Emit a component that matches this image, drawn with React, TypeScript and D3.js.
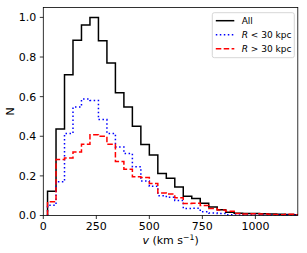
import React from "react";
import * as d3 from "d3";

// histogram bin edges: 20, 60, ..., 1220 (40 km/s bins)
const binStart = 20;
const binWidth = 40;

const allCounts = [
  0.123, 0.437, 0.711, 0.885, 0.962, 1.0, 0.882, 0.77, 0.62, 0.548,
  0.451, 0.358, 0.305, 0.212, 0.188, 0.144, 0.097, 0.086, 0.062, 0.043,
  0.029, 0.016, 0.011, 0.01, 0.01, 0.009, 0.008, 0.006, 0.005, 0.004,
];
const innerCounts = [
  0.052, 0.17, 0.414, 0.548, 0.588, 0.581, 0.484, 0.414, 0.346, 0.313,
  0.246, 0.174, 0.148, 0.1, 0.092, 0.076, 0.035, 0.036, 0.019, 0.012,
  0.01, 0.004, 0.003, 0.002, 0.002, 0.002, 0.001, 0.001, 0.001, 0.001,
];
const outerCounts = [
  0.069, 0.283, 0.29, 0.32, 0.36, 0.408, 0.4, 0.36, 0.272, 0.233,
  0.195, 0.192, 0.162, 0.113, 0.108, 0.09, 0.061, 0.062, 0.051, 0.035,
  0.028, 0.022, 0.01, 0.008, 0.009, 0.008, 0.005, 0.004, 0.006, 0.004,
];

const xTicks = [0, 250, 500, 750, 1000];
const yTicks = [0, 0.2, 0.4, 0.6, 0.8, 1.0];

const series = [
  { label: "All", counts: allCounts, color: "#000000", dash: "" },
  { label: "R < 30 kpc", counts: innerCounts, color: "#0000ff", dash: "1.5,2.5" },
  { label: "R > 30 kpc", counts: outerCounts, color: "#ff0000", dash: "5.5,2.4" },
];

const W = 307;
const H = 253;
const left = 43.3;
const right = 297.8;
const top = 7.5;
const bottom = 215.5;
const font = "DejaVu Sans";

export default function App() {
  const x = d3.scaleLinear().domain([0, 1200]).range([left, right]);
  const y = d3.scaleLinear().domain([0, 1.05]).range([bottom, top]);

  const stepPath = (counts: number[]) => {
    const pts: [number, number][] = [[binStart, 0]];
    counts.forEach((c, i) => {
      pts.push([binStart + i * binWidth, c]);
      pts.push([binStart + (i + 1) * binWidth, c]);
    });
    pts.push([binStart + counts.length * binWidth, 0]);
    return d3
      .line<[number, number]>()
      .x((d) => x(d[0]))
      .y((d) => y(d[1]))(pts)!;
  };

  const legX = 212.3;
  const legY = 12.7;
  const rowH = 14;

  return (
    <svg
      width={W}
      height={H}
      style={{ position: "absolute", left: 0, top: 0, background: "#fff" }}
      fontFamily={font}
    >
      <defs>
        <clipPath id="plotArea">
          <rect x={left} y={top} width={right - left} height={bottom - top} />
        </clipPath>
      </defs>

      <g clipPath="url(#plotArea)">
        {series.map((s) => (
          <path
            key={s.label}
            d={stepPath(s.counts)}
            fill="none"
            stroke={s.color}
            strokeWidth={1.5}
            strokeDasharray={s.dash || undefined}
            strokeLinejoin="miter"
          />
        ))}
      </g>

      {/* spines */}
      <rect
        x={left}
        y={top}
        width={right - left}
        height={bottom - top}
        fill="none"
        stroke="#000"
        strokeWidth={0.8}
      />

      {/* x axis */}
      {xTicks.map((t) => (
        <g key={t} transform={`translate(${x(t)},${bottom})`}>
          <line y2={3.5} stroke="#000" strokeWidth={0.8} />
          <text y={14.5} textAnchor="middle" fontSize={11}>
            {t}
          </text>
        </g>
      ))}
      <text x={(left + right) / 2} y={243.5} textAnchor="middle" fontSize={11}>
        <tspan fontStyle="italic">v</tspan>
        <tspan> (km s</tspan>
        <tspan fontSize={7.7} dy={-4}>−1</tspan>
        <tspan dy={4}>)</tspan>
      </text>

      {/* y axis */}
      {yTicks.map((t) => (
        <g key={t} transform={`translate(${left},${y(t)})`}>
          <line x2={-3.5} stroke="#000" strokeWidth={0.8} />
          <text x={-7} dy="0.36em" textAnchor="end" fontSize={11}>
            {t.toFixed(1)}
          </text>
        </g>
      ))}
      <text
        transform={`translate(14,${(top + bottom) / 2}) rotate(-90)`}
        textAnchor="middle"
        fontSize={11}
      >
        N
      </text>

      {/* legend */}
      <rect
        x={legX}
        y={legY}
        width={82}
        height={45}
        rx={2}
        fill="#fff"
        fillOpacity={0.8}
        stroke="#cccccc"
        strokeWidth={0.8}
      />
      {series.map((s, i) => {
        const ry = legY + 8 + i * rowH;
        const parts = s.label.split(" ");
        return (
          <g key={s.label}>
            <line
              x1={legX + 3.5}
              x2={legX + 22}
              y1={ry}
              y2={ry}
              stroke={s.color}
              strokeWidth={1.5}
              strokeDasharray={s.dash || undefined}
            />
            <text x={legX + 29.4} y={ry} dy="0.36em" fontSize={9}>
              {i === 0 ? (
                s.label
              ) : (
                <>
                  <tspan fontStyle="italic">{parts[0]}</tspan>
                  <tspan>{" " + parts.slice(1).join(" ")}</tspan>
                </>
              )}
            </text>
          </g>
        );
      })}
    </svg>
  );
}
